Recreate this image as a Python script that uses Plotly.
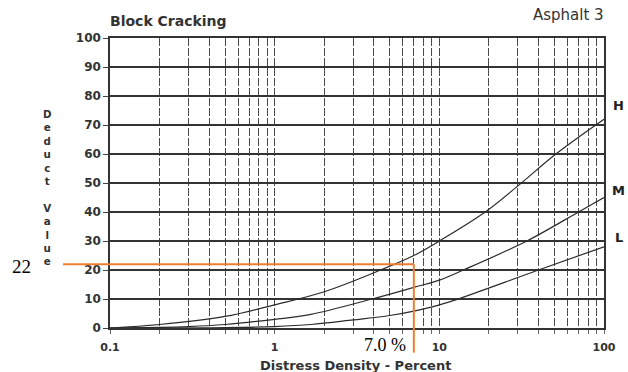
import math
import plotly.graph_objects as go

# Deduct value curves for block cracking (distress density in percent, log scale)
density_H = [0.1, 0.2, 0.5, 1, 2, 4.4, 7, 10, 19, 30, 51, 100]
deduct_H = [0, 1.2, 4, 8, 12.5, 20, 25, 30, 40, 49, 60, 72]

density_M = [0.1, 0.3, 0.5, 1, 1.66, 3.9, 7, 10, 14, 34, 70, 100]
deduct_M = [0, 0.5, 1.2, 3, 4.7, 10, 14, 16.5, 20, 30, 40, 45]

density_L = [0.1, 0.5, 1, 1.66, 3, 5, 7, 10, 12.7, 40, 100]
deduct_L = [0, 0.1, 0.5, 1.2, 2.8, 4.3, 5.8, 8, 9.8, 20, 28]

severity_labels = ["H", "M", "L"]

# Axis ticks
x_tick_vals = [0.1, 0.2, 0.3, 0.4, 0.5, 0.6, 0.7, 0.8, 0.9,
               1, 2, 3, 4, 5, 6, 7, 8, 9,
               10, 20, 30, 40, 50, 60, 70, 80, 90, 100]
x_tick_text = ["0.1", "", "", "", "", "", "", "", "",
               "1", "", "", "", "", "", "", "", "",
               "10", "", "", "", "", "", "", "", "", "100"]
y_tick_vals = [0, 10, 20, 30, 40, 50, 60, 70, 80, 90, 100]
y_tick_text = ["0", "10", "20", "30", "40", "50", "60", "70", "80", "90", "100"]

# Worked reading: 7.0 % density gives deduct value 22
read_density = 7.0
read_deduct = 22

X_MIN, X_MAX = 0.1, 100
Y_MIN, Y_MAX = 0, 100

INK = "#2b2b2b"
TEXT = "#333"
ORANGE = "#ED7D31"
SANS = "DejaVu Sans"

fig = go.Figure()
for xs, ys in [(density_H, deduct_H), (density_M, deduct_M), (density_L, deduct_L)]:
    fig.add_trace(go.Scatter(
        x=xs, y=ys, mode="lines",
        line=dict(color=INK, width=1.2, shape="spline", smoothing=1.0),
        hoverinfo="skip", showlegend=False,
    ))

def x_paper(v):
    return (math.log10(v) - math.log10(X_MIN)) / (math.log10(X_MAX) - math.log10(X_MIN))

def y_paper(v):
    return (v - Y_MIN) / (Y_MAX - Y_MIN)

# Orange reading lines
fig.add_shape(type="line", xref="paper", yref="y",
              x0=-0.095, x1=x_paper(read_density), y0=read_deduct, y1=read_deduct,
              line=dict(color=ORANGE, width=2), layer="above")
fig.add_shape(type="line", xref="x", yref="paper",
              x0=read_density, x1=read_density, y0=-0.085, y1=y_paper(read_deduct),
              line=dict(color=ORANGE, width=2), layer="above")

annotations = [
    dict(text="Block Cracking", x=-0.004, y=1.06, xanchor="left", yanchor="middle",
         font=dict(family=SANS, size=14, color=TEXT, weight="bold")),
    dict(text="Asphalt 3", x=1.004, y=1.078, xanchor="right", yanchor="middle",
         font=dict(family=SANS, size=15, color=TEXT)),
    dict(text="D<br>e<br>d<br>u<br>c<br>t<br> <br>V<br>a<br>l<br>u<br>e",
         x=-0.1275, y=0.486, xanchor="center", yanchor="middle",
         font=dict(family=SANS, size=10.3, color=TEXT, weight="bold")),
    dict(text="Distress Density - Percent", x=0.496, y=-0.13, xanchor="center", yanchor="middle",
         font=dict(family=SANS, size=13, color=TEXT, weight="bold")),
    dict(text=str(read_deduct), x=-0.18, y=0.212, xanchor="center", yanchor="middle",
         font=dict(family="Liberation Serif", size=19, color="#000")),
    dict(text=f"{read_density:.1f} %", x=0.557, y=-0.058, xanchor="center", yanchor="middle",
         font=dict(family="Liberation Serif", size=18, color="#000")),
]
label_y = {"H": 0.767, "M": 0.474, "L": 0.312}
for lab in severity_labels:
    annotations.append(dict(text=lab, x=1.03, y=label_y[lab], xanchor="center", yanchor="middle",
                            font=dict(family=SANS, size=13, color="#222", weight="bold")))
for a in annotations:
    a.setdefault("xref", "paper")
    a.setdefault("yref", "paper")
    a["showarrow"] = False

fig.update_layout(
    width=628, height=372,
    margin=dict(l=110, r=24, t=38, b=44),
    paper_bgcolor="white", plot_bgcolor="white",
    annotations=annotations,
    showlegend=False,
)
fig.update_xaxes(
    type="log", range=[math.log10(X_MIN), math.log10(X_MAX)],
    tickmode="array", tickvals=x_tick_vals, ticktext=x_tick_text,
    ticks="outside", ticklen=4, tickcolor="#666", tickwidth=1,
    ticklabelstandoff=4,
    showgrid=True, gridcolor="#4a4a4a", gridwidth=1.2, griddash="8px,2px",
    showline=True, mirror=True, linecolor="#333", linewidth=1.5,
    tickfont=dict(family=SANS, size=11, color=TEXT, weight="bold"),
    zeroline=False,
)
fig.update_yaxes(
    range=[Y_MIN, Y_MAX],
    tickmode="array", tickvals=y_tick_vals, ticktext=y_tick_text,
    ticks="outside", ticklen=5, tickcolor="#444", tickwidth=1,
    showgrid=True, gridcolor="#333", gridwidth=1.5,
    showline=True, mirror=True, linecolor="#333", linewidth=1.5,
    tickfont=dict(family=SANS, size=12, color=TEXT, weight="bold"),
    zeroline=False,
)

fig.write_html("out.html")
